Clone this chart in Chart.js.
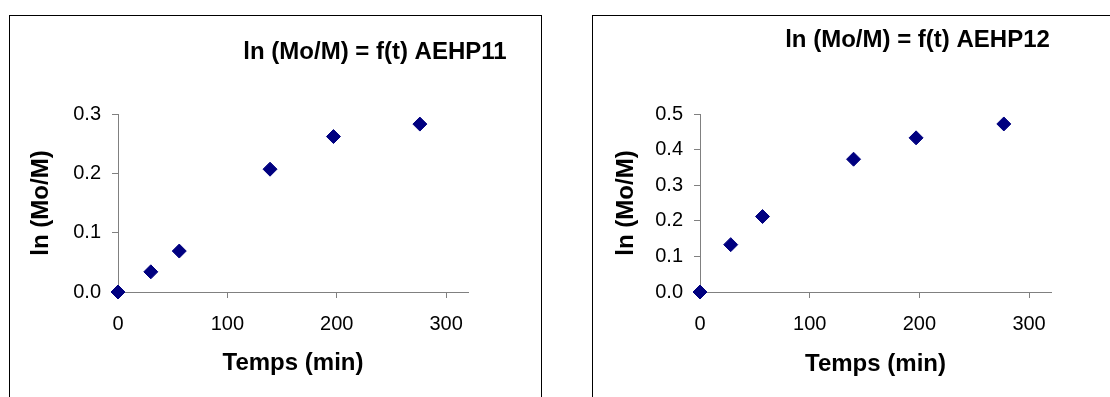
<!DOCTYPE html>
<html lang="fr">
<head>
<meta charset="utf-8">
<title>ln (Mo/M) = f(t)</title>
<script src="https://cdn.jsdelivr.net/npm/chart.js@4.4.1/dist/chart.umd.min.js"></script>
<style>
  html, body { margin: 0; padding: 0; background: #fff; }
  body { width: 1110px; height: 397px; overflow: hidden; position: relative; }
  .cadre { position: absolute; top: 15px; border: 1px solid #000; box-sizing: border-box; height: 420px; background: #fff; }
  #cadre-a { left: 9px; width: 533px; }
  #cadre-b { left: 592px; width: 560px; }
  canvas { position: absolute; left: 0; top: 0; }
</style>
</head>
<body>
<div class="cadre" id="cadre-a"><canvas id="graphe-a" width="531" height="381"></canvas></div>
<div class="cadre" id="cadre-b"><canvas id="graphe-b" width="517" height="381"></canvas></div>

<script>
// Données
const tempsA = [0, 30, 56, 139, 197, 276];
const lnA = [0, 0.034, 0.069, 0.207, 0.262, 0.283];

const tempsB = [0, 28, 57, 140, 197, 277];
const lnB = [0, 0.133, 0.212, 0.373, 0.433, 0.472];

const graduationsX = [0, 100, 200, 300];
const graduationsA = [0, 0.1, 0.2, 0.3];
const graduationsB = [0, 0.1, 0.2, 0.3, 0.4, 0.5];

const titreA = 'ln (Mo/M) = f(t) AEHP11';
const titreB = 'ln (Mo/M) = f(t) AEHP12';
const titreX = 'Temps (min)';
const titreY = 'ln (Mo/M)';

const police = '"Liberation Sans", Arial, sans-serif';
const gris = '#808080';

// Titre placé librement (comme dans Excel, il n'est pas centré)
const titreLibre = {
  id: 'titreLibre',
  afterDraw(chart, args, opts) {
    const ctx = chart.ctx;
    ctx.save();
    ctx.font = 'bold 24px ' + police;
    ctx.fillStyle = '#000';
    ctx.textAlign = 'center';
    ctx.textBaseline = 'alphabetic';
    ctx.fillText(opts.text, opts.x, opts.y);
    ctx.restore();
  }
};

function creeGraphe(id, temps, valeurs, graduationsY, maxY, titre, reglages) {
  const points = temps.map((t, i) => ({ x: t, y: valeurs[i] }));

  return new Chart(document.getElementById(id), {
    type: 'scatter',
    data: {
      datasets: [{
        data: points,
        pointStyle: 'rectRot',
        pointRadius: 7,
        pointHoverRadius: 7,
        backgroundColor: '#000080',
        borderColor: '#000080',
        borderWidth: 1,
        clip: false
      }]
    },
    plugins: [titreLibre],
    options: {
      responsive: false,
      animation: false,
      devicePixelRatio: 1,
      layout: {
        padding: { left: 0, top: 98, right: reglages.droite, bottom: 0 }
      },
      scales: {
        x: {
          type: 'linear',
          min: 0,
          max: 320,
          afterBuildTicks: axe => { axe.ticks = graduationsX.map(v => ({ value: v })); },
          afterFit: axe => { axe.height = 105; },
          grid: { drawOnChartArea: false, color: gris, tickLength: 6 },
          border: { color: gris, width: 1 },
          ticks: {
            color: '#000',
            font: { family: police, size: 20 },
            padding: 14,
            maxRotation: 0
          },
          title: {
            display: true,
            text: titreX,
            color: '#000',
            font: { family: police, size: 24, weight: 'bold' },
            padding: { top: 0, bottom: reglages.titreXBas }
          }
        },
        y: {
          type: 'linear',
          min: 0,
          max: maxY,
          afterBuildTicks: axe => { axe.ticks = graduationsY.map(v => ({ value: v })); },
          afterFit: axe => { axe.width = reglages.gauche; },
          grid: { drawOnChartArea: false, color: gris, tickLength: 6 },
          border: { color: gris, width: 1 },
          ticks: {
            color: '#000',
            font: { family: police, size: 20 },
            padding: 11,
            callback: v => v.toFixed(1)
          },
          title: {
            display: true,
            text: titreY,
            color: '#000',
            font: { family: police, size: 24, weight: 'bold' },
            padding: { top: reglages.titreYHaut, bottom: 0 }
          }
        }
      },
      plugins: {
        legend: { display: false },
        tooltip: { enabled: false },
        titreLibre: { text: titre, x: reglages.titreXPos, y: reglages.titreYPos }
      }
    }
  });
}

creeGraphe('graphe-a', tempsA, lnA, graduationsA, 0.3, titreA,
  { gauche: 108, droite: 73, titreXBas: 19, titreYHaut: 17, titreXPos: 365, titreYPos: 43 });

creeGraphe('graphe-b', tempsB, lnB, graduationsB, 0.5, titreB,
  { gauche: 107, droite: 59, titreXBas: 18, titreYHaut: 19, titreXPos: 324.5, titreYPos: 31 });
</script>
</body>
</html>
